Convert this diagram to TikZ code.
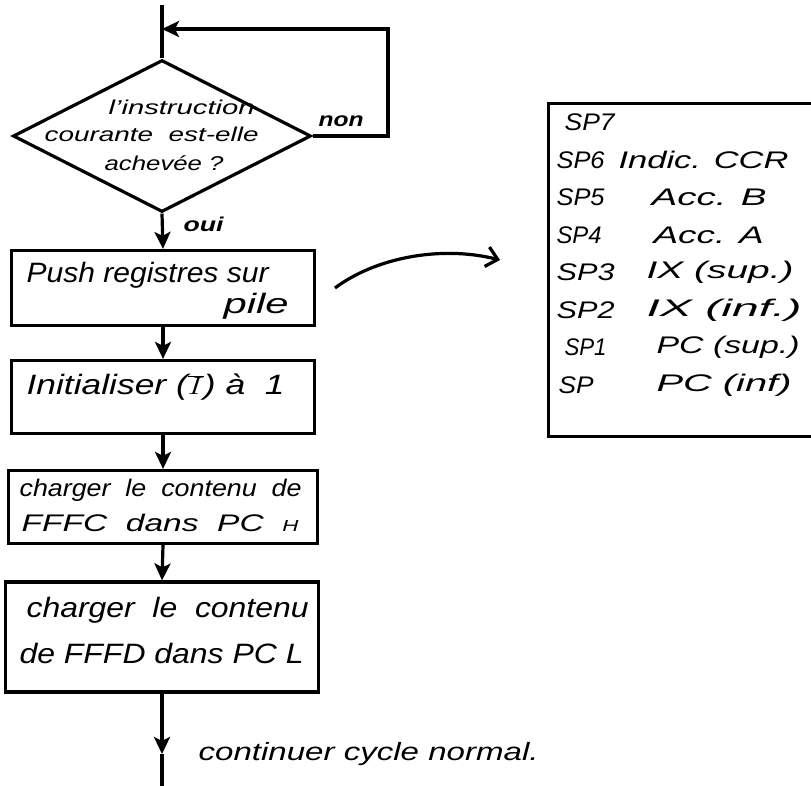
\documentclass[tikz,border=0pt]{standalone}
\usepackage{fontspec}
\usepackage{graphicx}
\setmainfont{Liberation Sans}
\usetikzlibrary{shapes.geometric,arrows.meta}
\newcommand{\hw}[2]{\resizebox{#1pt}{\height}{#2}}
\begin{document}
\begin{tikzpicture}[x=1pt,y=-1pt,line width=3.2pt,
  flow/.style={draw,rectangle,inner sep=0pt},
  hand/.style={font=\itshape\fontsize{28}{32}\selectfont,inner sep=0pt},
  mid/.style={font=\itshape\fontsize{24}{28}\selectfont,inner sep=0pt},
  small/.style={font=\itshape\fontsize{20}{24}\selectfont,inner sep=0pt},
  bsmall/.style={font=\bfseries\itshape\fontsize{20}{24}\selectfont,inner sep=0pt},
  stk/.style={font=\itshape\fontsize{24}{28}\selectfont,inner sep=0pt,anchor=west},
  arr/.style={-{Stealth[length=17pt,width=16pt,inset=4pt]}},
  txt/.style={anchor=west}]
\useasboundingbox[fill=white] (0,0) rectangle (811,785);
% decision
\node[draw,diamond,minimum width=298pt,minimum height=152pt,inner sep=0pt] (d) at (162,136) {};
\node[small,txt] (dt1) at (107,107) {\hw{146}{l'instruction}};
\node[small,txt] (dt2) at (43,134) {\hw{214}{courante \ est-elle}};
\node[small,txt] (dt3) at (103,163) {\hw{119}{achevée ?}};
\node[bsmall,txt] (non) at (317,121) {\hw{45}{non}};
\node[bsmall,txt] (oui) at (182,224) {\hw{40}{oui}};
\coordinate (top) at (162,5);
\coordinate (j) at (162,29);
\coordinate (r1) at (388,136);
\coordinate (r2) at (388,29);
\draw (top) -- (d.north);
\draw[arr] (d.east) -- (r1) -- (r2) -- (j);
% boxes
\node[flow,minimum width=303pt,minimum height=75pt] (b1) at (163,288) {};
\node[hand,txt] (b1t1) at (25,275) {\hw{242}{Push registres sur}};
\node[hand,txt] (b1t2) at (222,306) {\hw{65}{pile}};
\node[flow,minimum width=303pt,minimum height=73pt] (b2) at (163,397) {};
\node[hand,txt] (b2t) at (25,387) {\hw{258}{Initialiser ($\overline{I}$) à \ 1}};
\node[flow,minimum width=309pt,minimum height=73pt] (b3) at (163,507) {};
\node[mid,txt] (b3t1) at (18,490) {\hw{282}{charger \ le \ contenu \ de}};
\node[mid,txt] (b3t2) at (20,523) {\hw{277}{FFFC \ dans \ PC \ {\fontsize{16}{18}\selectfont H}}};
\node[flow,minimum width=313pt,minimum height=110pt] (b4) at (162,637) {};
\node[hand,txt] (b4t1) at (25,610) {\hw{282}{charger \ le \ contenu}};
\node[hand,txt] (b4t2) at (18,653) {\hw{284}{de FFFD dans PC L}};
\draw[arr] (d.south) -- (b1.north);
\draw[arr] (b1.south) -- (b2.north);
\draw[arr] (b2.south) -- (b3.north);
\draw[arr] (b3.south) -- (b4.north);
\coordinate (mid) at (162,754);
\coordinate (end) at (162,790);
\draw[arr] (b4.south) -- (mid);
\draw (mid) -- (end);
\node[mid,txt,font=\itshape\fontsize{25}{28}\selectfont] (cont) at (197,754) {\hw{340}{continuer cycle normal.}};
% curved arrow
\coordinate (c1) at (335,288);
\coordinate (c2) at (500,260);
\draw[-{Straight Barb[length=11pt,width=20pt]}] (c1) .. controls (375,258) and (440,245) .. (c2);
% stack
\node[flow,minimum width=290pt,minimum height=333pt,anchor=north west] (st) at (547,102) {};
\node[stk] (s0) at (563,122) {\hw{50}{SP7}};
\foreach \n/\sx/\w/\y/\v/\x/\vw [count=\i] in {SP6/555/48/160/{Indic. CCR}/617/170,SP5/555/48/197/{Acc. B}/650/115,SP4/555/45/235/{Acc. A}/652/110,SP3/555/58/272/{IX (sup.)}/645/147,SP2/555/58/310/{IX (inf.)}/645/155,SP1/563/42/347/{PC (sup.)}/655/143,SP/557/35/385/{PC (inf)}/655/135}{
  \node[stk] (s\i) at (\sx,\y) {\hw{\w}{\n}};
  \node[stk] (v\i) at (\x,\y) {\hw{\vw}{\v}};
}
\end{tikzpicture}
\end{document}
